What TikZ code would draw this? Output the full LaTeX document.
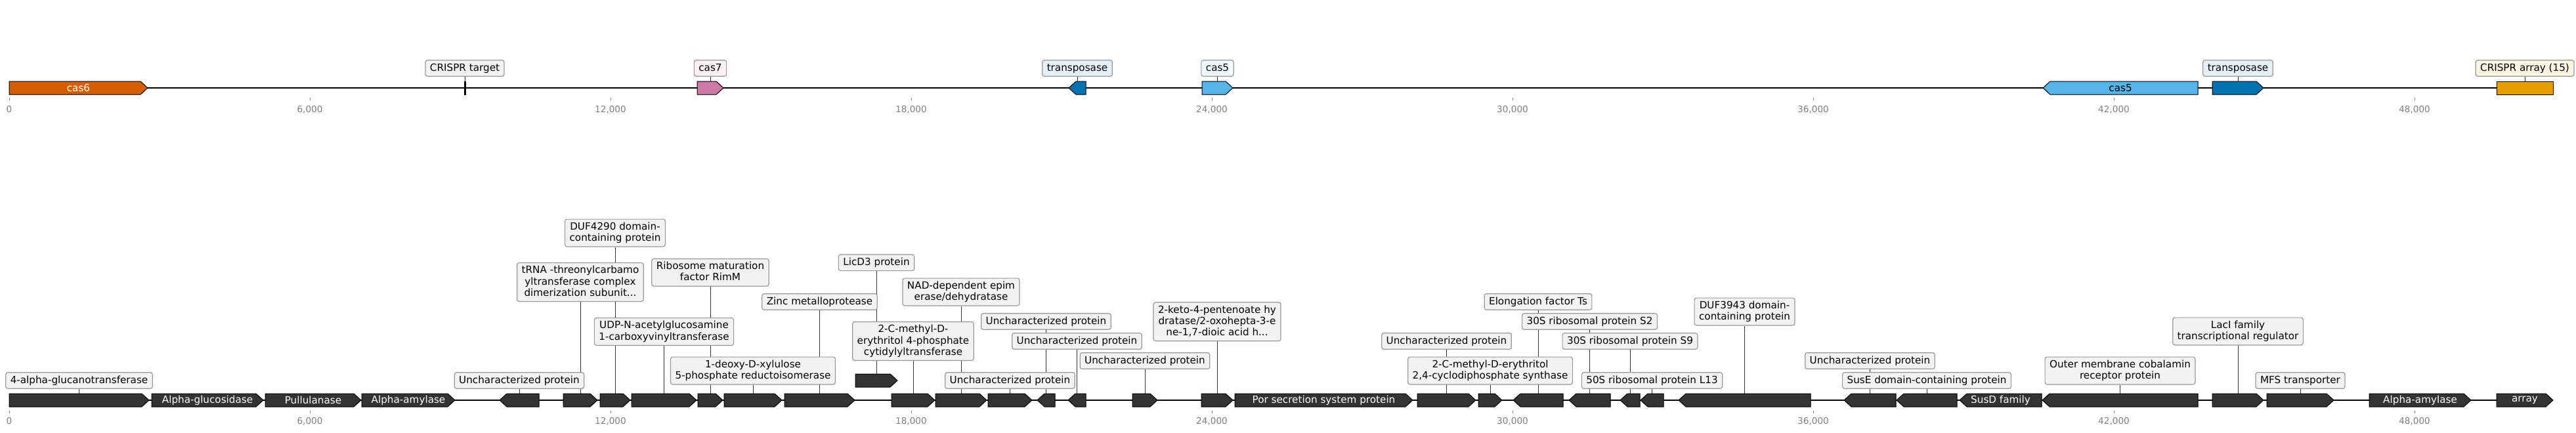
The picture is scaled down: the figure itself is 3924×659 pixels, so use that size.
\documentclass[tikz,border=0pt]{standalone}
\usepackage{fontspec}
\setmainfont{DejaVu Sans}
\pgfdeclarelayer{back}
\pgfdeclarelayer{bg}
\pgfsetlayers{back,bg,main}
\definecolor{vermil}{HTML}{D55E00}
\definecolor{rpink}{HTML}{CC79A7}
\definecolor{dblue}{HTML}{0072B2}
\definecolor{skyb}{HTML}{56B4E9}
\definecolor{orng}{HTML}{E69F00}
\definecolor{gdark}{HTML}{333333}
\definecolor{boxfill}{HTML}{F2F2F2}
\definecolor{boxedge}{HTML}{999999}
\definecolor{tickgray}{HTML}{808080}
\newcommand\lfont{\fontsize{7.6}{8.6}\selectfont}
\newcommand\tfont{\fontsize{6.8}{8}\selectfont}
\newcommand\ms{\vrule width 0pt height 5.8pt depth 1.8pt\relax}
\tikzset{
  gene/.style={draw=black, line width=0.5pt, line join=miter},
  lbl/.style={draw=boxedge, fill=boxfill, rounded corners=1.6pt, line width=0.6pt,
    inner xsep=3.5pt, inner ysep=2.35pt, font=\lfont, align=center},
  conn/.style={draw=black!80, line width=0.4pt},
  inlbl/.style={font=\lfont, text=white, inner sep=0pt},
  tk/.style={draw=tickgray, line width=0.4pt},
  tklbl/.style={font=\tfont, text=tickgray, inner sep=0pt},
  track/.style={line width=1.2pt, draw=black},
}
% forward gene: name, x1, x2, y, fill
\newcommand\gfwd[5]{%
  \filldraw[gene,fill=#5] (#2,#4-10) -- ({#3-11},#4-10) -- (#3,#4) -- ({#3-11},#4+10) -- (#2,#4+10) -- cycle;
  \coordinate (#1) at ({(#2+#3)/2},#4-10);}
% reverse gene: name, x1 (tip), x2, y, fill
\newcommand\grev[5]{%
  \filldraw[gene,fill=#5] (#3,#4-10) -- ({#2+11},#4-10) -- (#2,#4) -- ({#2+11},#4+10) -- (#3,#4+10) -- cycle;
  \coordinate (#1) at ({(#2+#3)/2},#4-10);}
\begin{document}
\begin{tikzpicture}[x=0.5pt,y=-0.5pt]
\begin{pgfonlayer}{back}
\fill[white] (0,0) rectangle (3924,659);
\end{pgfonlayer}
\useasboundingbox (0,0) rectangle (3924,659);

% ---------- ticks ----------
\foreach \k/\lab in {0/0,1/{6,000},2/{12,000},3/{18,000},4/{24,000},5/{30,000},6/{36,000},7/{42,000},8/{48,000}}{
  \draw[tk] ({14+458*\k},149) -- ({14+458*\k},153);
  \node[tklbl] (tt\k) at ({14+458*\k},167) {\lab};
  \draw[tk] ({14+458*\k},626) -- ({14+458*\k},630);
  \node[tklbl] (bt\k) at ({14+458*\k},642) {\lab};
}

% ---------- track lines ----------
\coordinate (tl0) at (14,134); \coordinate (tl1) at (3889,134);
\coordinate (bl0) at (14,610); \coordinate (bl1) at (3889,610);
\draw[track] (tl0) -- (tl1);
\draw[track] (bl0) -- (bl1);

% ---------- top track ----------
\gfwd{t1}{14}{225}{134}{vermil}
\node[inlbl] (it1) at (119.5,134) {cas6};
\filldraw[gene,fill=black,line width=0.3pt] (707,124) rectangle (709,144);
\coordinate (t2) at (708,124);
\gfwd{t3}{1062}{1102}{134}{rpink}
\grev{t4}{1628}{1654}{134}{dblue}
\gfwd{t5}{1831}{1878}{134}{skyb}
\grev{t6}{3112}{3348}{134}{skyb}
\node[inlbl,text=black] (it6) at (3230,134) {cas5};
\gfwd{t7}{3370}{3448}{134}{dblue}
\filldraw[gene,fill=orng] (3803,124) rectangle (3889,144);
\coordinate (t8) at (3846,124);

\node[lbl] (a2) at (708,104) {\ms CRISPR target};
\node[lbl,fill=rpink!12] (a3) at (1082,104) {\ms cas7};
\node[lbl,fill=dblue!10] (a4) at (1641,104) {\ms transposase};
\node[lbl,fill=skyb!10] (a5) at (1854.5,104) {\ms cas5};
\node[lbl,fill=dblue!10] (a7) at (3409,104) {\ms transposase};
\node[lbl,fill=orng!12] (a8) at (3846,104) {\ms CRISPR array (15)};

% ---------- bottom track genes ----------
\gfwd{g1}{14}{227}{610}{gdark}
\gfwd{g2}{231}{401}{610}{gdark}
\gfwd{g3}{404}{550}{610}{gdark}
\gfwd{g4}{551}{693}{610}{gdark}
\grev{g5}{761}{821}{610}{gdark}
\gfwd{g6}{858}{910}{610}{gdark}
\gfwd{g7}{914}{960}{610}{gdark}
\gfwd{g8}{962}{1061}{610}{gdark}
\gfwd{g9}{1063}{1101}{610}{gdark}
\gfwd{g10}{1103}{1191}{610}{gdark}
\gfwd{g11}{1195}{1302}{610}{gdark}
\gfwd{g12}{1303}{1367}{580}{gdark}
\gfwd{g13}{1358}{1424}{610}{gdark}
\gfwd{g14}{1425}{1503}{610}{gdark}
\gfwd{g15}{1505}{1572}{610}{gdark}
\grev{g16}{1580}{1607}{610}{gdark}
\grev{g17}{1627}{1654}{610}{gdark}
\gfwd{g18}{1725}{1763}{610}{gdark}
\gfwd{g19}{1830}{1878}{610}{gdark}
\gfwd{g20}{1881}{2152}{610}{gdark}
\gfwd{g21}{2159}{2248}{610}{gdark}
\gfwd{g22}{2252}{2288}{610}{gdark}
\grev{g23}{2305}{2381}{610}{gdark}
\grev{g24}{2390}{2453}{610}{gdark}
\grev{g25}{2468}{2498}{610}{gdark}
\grev{g26}{2499}{2534}{610}{gdark}
\grev{g27}{2557}{2758}{610}{gdark}
\grev{g28}{2809}{2888}{610}{gdark}
\grev{g29}{2889}{2981}{610}{gdark}
\grev{g30}{2985}{3110}{610}{gdark}
\grev{g31}{3111}{3348}{610}{gdark}
\gfwd{g32}{3370}{3448}{610}{gdark}
\gfwd{g33}{3453}{3555}{610}{gdark}
\gfwd{g34}{3609}{3764}{610}{gdark}
\gfwd{g35}{3803}{3889}{610}{gdark}

\node[inlbl] (i2) at (316,610) {Alpha-glucosidase};
\node[inlbl] (i3) at (477,610) {Pullulanase};
\node[inlbl] (i4) at (622,610) {Alpha-amylase};
\node[inlbl] (i20) at (2016.5,610) {Por secretion system protein};
\node[inlbl] (i30) at (3047.5,610) {SusD family};
\node[inlbl] (i34) at (3686.5,610) {Alpha-amylase};
\node[inlbl] (i35) at (3846,610) {array};

% ---------- bottom labels ----------
\node[lbl] (b1) at (120.5,580) {\ms 4-alpha-glucanotransferase};
\node[lbl] (b5) at (791,580) {\ms Uncharacterized protein};
\node[lbl] (b6) at (884,430) {\ms tRNA -threonylcarbamo\\\ms yltransferase complex\\\ms dimerization subunit...};
\node[lbl] (b7) at (937,355) {\ms DUF4290 domain-\\\ms containing protein};
\node[lbl] (b8) at (1011.5,505.5) {\ms UDP-N-acetylglucosamine\\\ms 1-carboxyvinyltransferase};
\node[lbl] (b9) at (1082,415.3) {\ms Ribosome maturation\\\ms factor RimM};
\node[lbl] (b10) at (1147,565) {\ms 1-deoxy-D-xylulose\\\ms 5-phosphate reductoisomerase};
\node[lbl] (b11) at (1248.5,460) {\ms Zinc metalloprotease};
\node[lbl] (b12) at (1335,400.3) {\ms LicD3 protein};
\node[lbl] (b13) at (1391,520) {\ms 2-C-methyl-D-\\\ms erythritol 4-phosphate\\\ms cytidylyltransferase};
\node[lbl] (b14) at (1464,445) {\ms NAD-dependent epim\\\ms erase/dehydratase};
\node[lbl] (b15) at (1538.5,580) {\ms Uncharacterized protein};
\node[lbl] (b16) at (1593.5,490) {\ms Uncharacterized protein};
\node[lbl] (b17) at (1640.5,520) {\ms Uncharacterized protein};
\node[lbl] (b18) at (1744,550) {\ms Uncharacterized protein};
\node[lbl] (b19) at (1854,490.3) {\ms 2-keto-4-pentenoate hy\\\ms dratase/2-oxohepta-3-e\\\ms ne-1,7-dioic acid h...};
\node[lbl] (b21) at (2203.5,520) {\ms Uncharacterized protein};
\node[lbl] (b22) at (2270,565) {\ms 2-C-methyl-D-erythritol\\\ms 2,4-cyclodiphosphate synthase};
\node[lbl] (b23) at (2343,460) {\ms Elongation factor Ts};
\node[lbl] (b24) at (2421.5,490) {\ms 30S ribosomal protein S2};
\node[lbl] (b25) at (2483,520) {\ms 30S ribosomal protein S9};
\node[lbl] (b26) at (2516.5,580) {\ms 50S ribosomal protein L13};
\node[lbl] (b27) at (2657.5,475) {\ms DUF3943 domain-\\\ms containing protein};
\node[lbl] (b28) at (2848.5,550) {\ms Uncharacterized protein};
\node[lbl] (b29) at (2935,580) {\ms SusE domain-containing protein};
\node[lbl] (b31) at (3229.5,565) {\ms Outer membrane cobalamin\\\ms receptor protein};
\node[lbl] (b32) at (3409,505) {\ms LacI family\\\ms transcriptional regulator};
\node[lbl] (b33) at (3504,580) {\ms MFS transporter};

% ---------- connectors (under boxes) ----------
\begin{pgfonlayer}{bg}
\foreach \a/\b in {a2/t2,a3/t3,a4/t4,a5/t5,a7/t7,a8/t8}{\draw[conn] (\a.south) -- (\b);}
\foreach \n in {1,5,6,7,8,9,10,11,12,13,14,15,16,17,18,19,21,22,23,24,25,26,27,28,29,31,32,33}{
  \draw[conn] (b\n.south) -- (g\n);}
\end{pgfonlayer}
\end{tikzpicture}
\end{document}
